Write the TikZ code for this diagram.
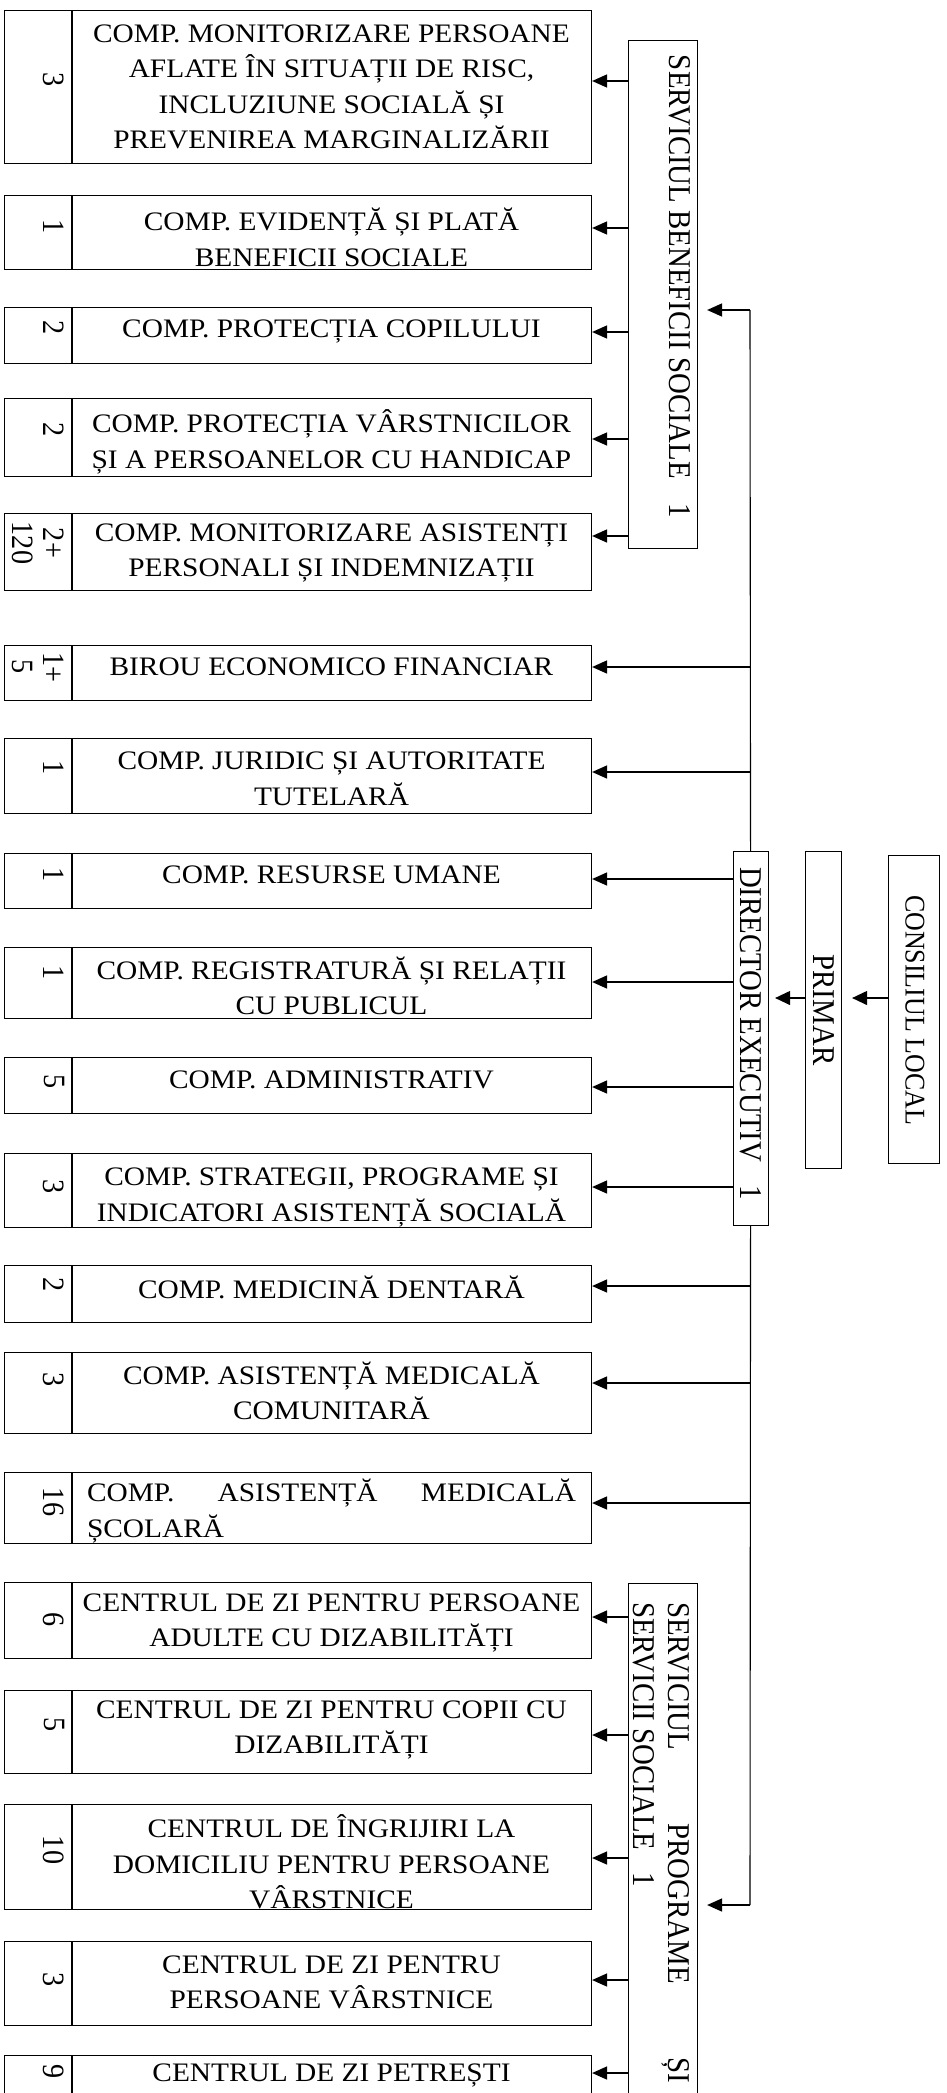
\documentclass[tikz,border=0pt]{standalone}
\usepackage{fontspec}
\setmainfont{Liberation Serif}
\newfontfamily\hfont{Liberation Serif}[FakeStretch=1.1]
\newfontfamily\vfont{Liberation Serif}[FakeStretch=0.91]
\usetikzlibrary{arrows.meta}
\newcommand\mkbox[8]{%
  \node[bx, anchor=north west, minimum width=587pt, minimum height={(#3-#2)*1pt}] (#1) at (4,#2) {};
  \draw[bx] ([xshift=68pt]#1.north west) -- ([xshift=68pt]#1.south west);
  \node[ntxt] (#1n) at (#4,#5) {#6};
  \node[htxt] (#1t) at (331.5,#7) {#8};
}
\begin{document}
\begin{tikzpicture}[x=1pt,y=-1pt,
  bx/.style={draw, line width=1.1pt, inner sep=0pt},
  htxt/.style={font=\hfont\fontsize{26.7}{35.5}\selectfont, align=center, inner sep=0pt},
  ntxt/.style={font=\vfont\fontsize{31}{31}\selectfont, align=center, rotate=-90, inner sep=0pt},
  vtxt/.style={font=\vfont\fontsize{31.7}{35}\selectfont, align=left, rotate=-90, inner sep=0pt},
  arr/.style={-{Triangle[length=15pt,width=13pt]}, line width=1.6pt},
  arrt/.style={-{Triangle[length=15pt,width=14pt]}, line width=1.1pt},
  ln/.style={line width=1.1pt}]
\useasboundingbox (0,0) rectangle (947,2093);
\clip (0,0) rectangle (947,2093);

\mkbox{b1}{10}{163}{54}{80}{3}{86.7}{COMP. MONITORIZARE PERSOANE\\AFLATE ÎN SITUAȚII DE RISC,\\INCLUZIUNE SOCIALĂ ȘI\\PREVENIREA MARGINALIZĂRII}
\mkbox{b2}{195}{269}{54}{227}{1}{237.5}{COMP. EVIDENȚĂ ȘI PLATĂ\\BENEFICII SOCIALE}
\mkbox{b3}{307}{363}{54}{328}{2}{331.7}{COMP. PROTECȚIA COPILULUI}
\mkbox{b4}{398}{476}{54}{430}{2}{441.7}{COMP. PROTECȚIA VÂRSTNICILOR\\ȘI A PERSOANELOR CU HANDICAP}
\mkbox{b5}{513}{590}{38.5}{543}{2+\\120}{553}{COMP. MONITORIZARE ASISTENȚI\\PERSONALI ȘI INDEMNIZAȚII}
\mkbox{b6}{645}{700}{38.5}{667}{1+\\5}{666.7}{BIROU ECONOMICO FINANCIAR}
\mkbox{b7}{738}{813}{54}{768}{1}{779}{COMP. JURIDIC ȘI AUTORITATE\\TUTELARĂ}
\mkbox{b8}{853}{908}{54}{875}{1}{875}{COMP. RESURSE UMANE}
\mkbox{b9}{947}{1018}{54}{973}{1}{985.8}{COMP. REGISTRATURĂ ȘI RELAȚII\\CU PUBLICUL}
\mkbox{b10}{1057}{1113}{54}{1082}{5}{1080}{COMP. ADMINISTRATIV}
\mkbox{b11}{1153}{1227}{54}{1187}{3}{1197.5}{COMP. STRATEGII, PROGRAME ȘI\\INDICATORI ASISTENȚĂ SOCIALĂ}
\mkbox{b12}{1265}{1322}{54}{1285}{2}{1287}{COMP. MEDICINĂ DENTARĂ}
\mkbox{b13}{1352}{1433}{54}{1380}{3}{1391}{COMP. ASISTENȚĂ MEDICALĂ\\COMUNITARĂ}
\mkbox{b14}{1472}{1543}{54}{1502}{16}{1511}{\hbox to 489pt{COMP.\hfill ASISTENȚĂ\hfill MEDICALĂ}\\\hbox to 489pt{ȘCOLARĂ\hfill}}
\mkbox{b15}{1582}{1658}{54}{1620}{6}{1623}{CENTRUL DE ZI PENTRU PERSOANE\\ADULTE CU DIZABILITĂȚI}
\mkbox{b16}{1690}{1773}{54}{1725}{5}{1730}{CENTRUL DE ZI PENTRU COPII CU\\DIZABILITĂȚI}
\mkbox{b17}{1804}{1909}{54}{1850}{10}{1862}{CENTRUL DE ÎNGRIJIRI LA\\DOMICILIU PENTRU PERSOANE\\VÂRSTNICE}
\mkbox{b18}{1941}{2025}{54}{1980}{3}{1982.5}{CENTRUL DE ZI PENTRU\\PERSOANE VÂRSTNICE}
\mkbox{b19}{2055}{2130}{54}{2072}{9}{2075}{CENTRUL DE ZI PETREȘTI}

% service boxes
\node[bx, anchor=north west, minimum width=69pt, minimum height=508pt] (sbs) at (628,40) {};
\node[vtxt] (sbst) at (680,286.5) {\hbox to 463pt{SERVICIUL BENEFICII SOCIALE\hfill 1}};
\node[bx, anchor=north west, minimum width=69pt, minimum height=560pt] (spss) at (628,1583) {};
\node[vtxt] (spsst) at (661.5,1842.5) {\hbox to 481pt{SERVICIUL\hfill PROGRAME\hfill ȘI}\\\hbox to 481pt{SERVICII SOCIALE\hspace{22pt}1\hfill}};

% management
\node[bx, anchor=north west, minimum width=35pt, minimum height=374pt] (dir) at (732.5,851) {};
\node[vtxt] (dirt) at (751,1033.5) {\hbox to 333pt{DIRECTOR EXECUTIV\hfill 1}};
\node[bx, anchor=north west, minimum width=36pt, minimum height=317pt] (pr) at (805,851) {};
\node[vtxt] (prt) at (824,1010) {PRIMAR};
\node[bx, anchor=north west, minimum width=51pt, minimum height=308pt] (cl) at (888,855) {};
\node[vtxt, font=\vfont\fontsize{28.5}{35}\selectfont] (clt) at (915,1010) {CONSILIUL LOCAL};

\draw[arrt, shorten >=10pt] (cl.west |- 0,998) -- (pr.east |- 0,998);
\draw[arrt, shorten >=6.5pt] (pr.west |- 0,998) -- (dir.east |- 0,998);

% main line
\coordinate (top) at (750,310);
\coordinate (bot) at (750,1905);
\draw[ln] (dir.north) -- (top);
\draw[ln] (dir.south) -- (bot);
\draw[arr, shorten >=9pt] (top) -- (sbs.east |- top);
\draw[arr, shorten >=9pt] (bot) -- (spss.east |- bot);

\foreach \b/\y in {b1/81, b2/228, b3/332, b4/439, b5/536}
  \draw[arr] (sbs.west |- 0,\y) -- (\b.east |- 0,\y);
\foreach \b/\y in {b6/667, b7/772, b12/1286, b13/1383, b14/1503}
  \draw[arr] (dir.north |- 0,\y) -- (\b.east |- 0,\y);
\foreach \b/\y in {b8/879, b9/982, b10/1087, b11/1187}
  \draw[arr] (dir.west |- 0,\y) -- (\b.east |- 0,\y);
\foreach \b/\y in {b15/1617, b16/1735, b17/1858, b18/1980, b19/2073}
  \draw[arr] (spss.west |- 0,\y) -- (\b.east |- 0,\y);
\end{tikzpicture}
\end{document}
